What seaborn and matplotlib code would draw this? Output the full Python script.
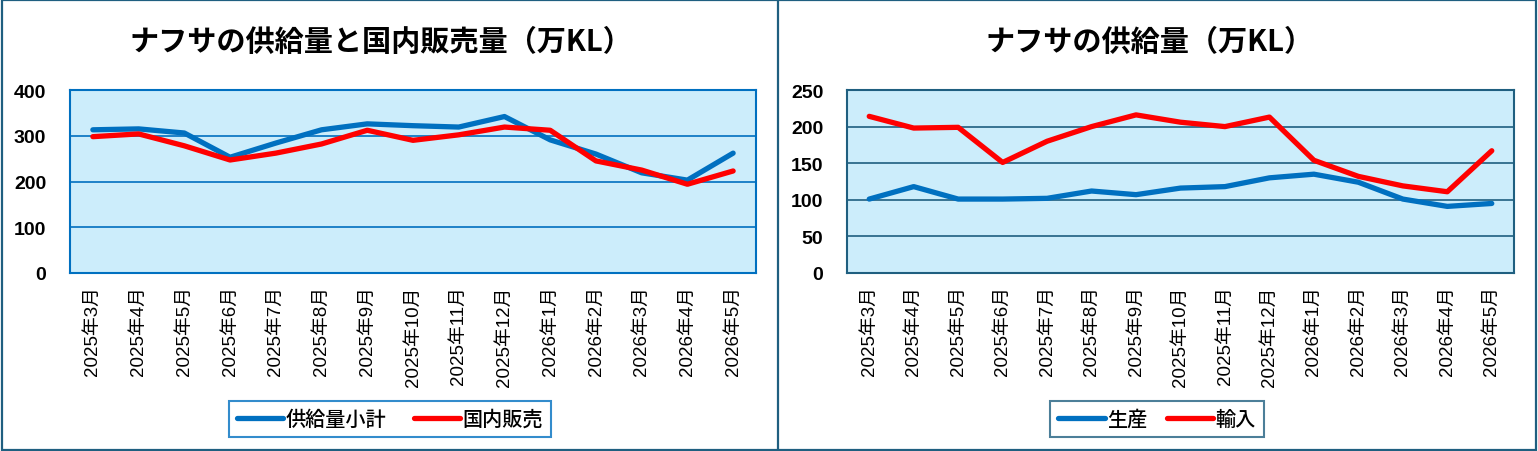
import pandas as pd
import numpy as np
import matplotlib
matplotlib.use("Agg")
import matplotlib.pyplot as plt
import seaborn as sns
from matplotlib.patches import Rectangle
from matplotlib.lines import Line2D
from matplotlib.ticker import FixedLocator

# data
months = ["2025年3月", "2025年4月", "2025年5月", "2025年6月", "2025年7月", "2025年8月",
          "2025年9月", "2025年10月", "2025年11月", "2025年12月", "2026年1月", "2026年2月",
          "2026年3月", "2026年4月", "2026年5月"]
supply_total = [313, 315, 306, 253, 284, 313, 326, 322, 319, 342, 291, 260, 219, 203, 262]
domestic_sales = [298, 304, 278, 247, 262, 282, 312, 290, 302, 319, 312, 245, 225, 194, 223]
production = [101, 118, 101, 101, 102, 112, 107, 116, 118, 130, 135, 124, 101, 91, 95]
imports = [214, 198, 199, 151, 180, 200, 216, 206, 200, 213, 154, 132, 119, 111, 167]

left_title = "ナフサの供給量と国内販売量（万KL）"
right_title = "ナフサの供給量（万KL）"

sns.set_style("white")
plt.rcParams['font.family'] = ['Noto Sans CJK JP', 'DejaVu Sans']
plt.rcParams['text.color'] = 'black'
plt.rcParams['xtick.color'] = 'black'
plt.rcParams['ytick.color'] = 'black'

BLUE = "#0070C0"
RED = "#FF0000"
TEAL = "#1F5F80"
BG = "#CCEDFB"

W, H = 1538, 452
fig = plt.figure(figsize=(W / 100, H / 100), dpi=100)

df = pd.DataFrame({"month": months, "supply": supply_total, "sales": domestic_sales,
                   "prod": production, "imp": imports})


def setup(ax, ymax, step, frame_col, grid_col):
    ax.set_facecolor(BG)
    ax.set_xlim(-0.5, len(months) - 0.5)
    ax.set_ylim(0, ymax)
    ax.set_yticks(np.arange(0, ymax + 1, step))
    ax.grid(False)
    for v in np.arange(step, ymax, step):
        ax.axhline(v, color=grid_col, lw=1.2, zorder=1)
    for s in ax.spines.values():
        s.set_color(frame_col)
        s.set_linewidth(1.5)
    ax.set_xticks(range(len(months)))
    ax.set_xticklabels(months, rotation=90, fontsize=13.5, color='black',
                       family=['Liberation Sans', 'Noto Sans CJK JP'])
    ax.xaxis.set_minor_locator(FixedLocator(np.arange(-0.5, len(months), 1)))
    ax.tick_params(axis='x', which='major', length=0, pad=9)
    ax.tick_params(axis='x', which='minor', length=6, width=1.5, color=frame_col, direction='out')
    ax.tick_params(axis='y', length=0, pad=17)
    for t in ax.get_yticklabels():
        t.set_fontfamily(['Liberation Sans Narrow', 'Liberation Sans'])
        t.set_fontweight('bold')
        t.set_fontsize(14)
        t.set_color('black')
    ax.set_xlabel("")
    ax.set_ylabel("")


# left chart
ax1 = fig.add_axes([70 / W, 1 - 274 / H, (756 - 70) / W, (274 - 91) / H])
sns.lineplot(data=df, x="month", y="supply", ax=ax1, color=BLUE, lw=3.8,
             label="供給量小計", zorder=3, sort=False)
sns.lineplot(data=df, x="month", y="sales", ax=ax1, color=RED, lw=3.8,
             label="国内販売", zorder=4, sort=False)
setup(ax1, 400, 100, BLUE, BLUE)
leg1 = ax1.legend(loc='center', bbox_to_anchor=(390 / W, 1 - 420 / H), bbox_transform=fig.transFigure,
                  ncol=2, frameon=True, fancybox=False, edgecolor=BLUE,
                  prop={'size': 14.5, 'weight': 'medium'},
                  handlelength=2.3, handletextpad=0.1, columnspacing=1.4, borderpad=0.4)
leg1.get_frame().set_linewidth(1.5)

# right chart
ax2 = fig.add_axes([847 / W, 1 - 274 / H, (1514 - 847) / W, (274 - 91) / H])
sns.lineplot(data=df, x="month", y="prod", ax=ax2, color=BLUE, lw=3.8,
             label="生産", zorder=3, sort=False)
sns.lineplot(data=df, x="month", y="imp", ax=ax2, color=RED, lw=3.8,
             label="輸入", zorder=4, sort=False)
setup(ax2, 250, 50, TEAL, TEAL)
leg2 = ax2.legend(loc='center', bbox_to_anchor=(1157 / W, 1 - 420 / H), bbox_transform=fig.transFigure,
                  ncol=2, frameon=True, fancybox=False, edgecolor=TEAL,
                  prop={'size': 14.5, 'weight': 'medium'},
                  handlelength=2.3, handletextpad=0.1, columnspacing=1.0, borderpad=0.4)
leg2.get_frame().set_linewidth(1.5)

fig.text(381 / W, 1 - 42 / H, left_title, ha='center', va='center', fontsize=21, fontweight='bold')
fig.text(1150 / W, 1 - 42 / H, right_title, ha='center', va='center', fontsize=21, fontweight='bold')

# panel borders
fig.patches.append(Rectangle((0.001, 0.002), 0.998, 0.996, transform=fig.transFigure,
                             fill=False, edgecolor=TEAL, lw=1.6))
fig.add_artist(Line2D([778 / W, 778 / W], [0, 1], transform=fig.transFigure, color=TEAL, lw=1.6))

fig.savefig("out.png", dpi=100)
